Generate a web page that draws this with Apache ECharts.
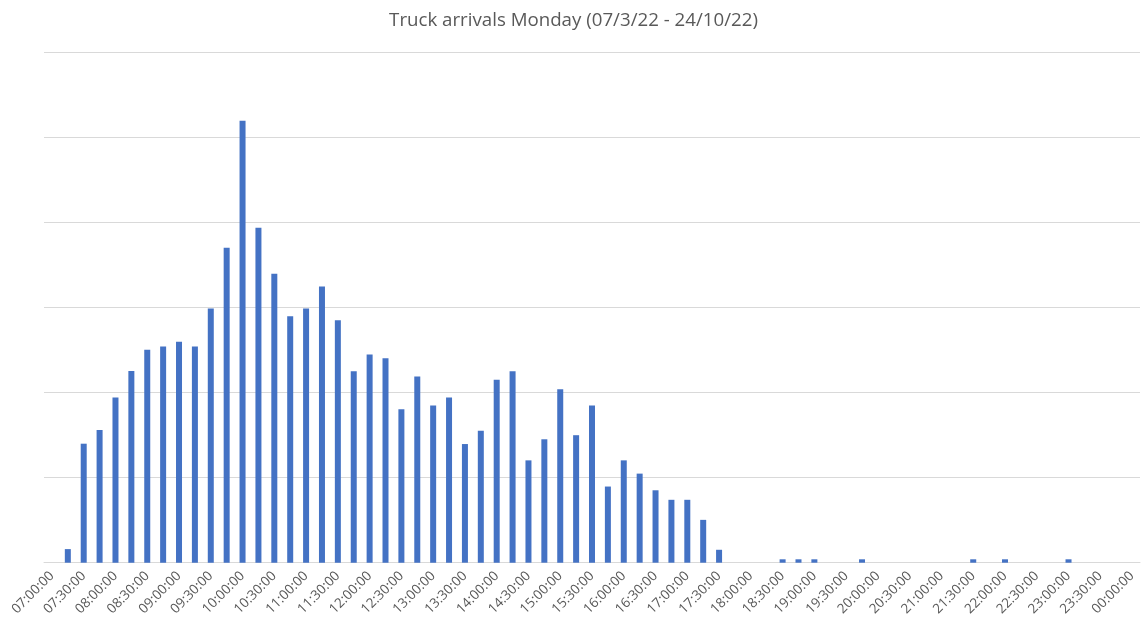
<!DOCTYPE html>
<html>
<head>
<meta charset="utf-8">
<script src="https://cdn.jsdelivr.net/npm/echarts@6/dist/echarts.min.js"></script>
<style>
html,body{margin:0;padding:0;background:#fff;}
#chart{width:1147px;height:629px;}
</style>
</head>
<body>
<div id="chart"></div>
<script>
var titleText = 'Truck arrivals Monday (07/3/22 - 24/10/22)';
var categories = [
 '07:00:00','07:15:00','07:30:00','07:45:00','08:00:00','08:15:00','08:30:00','08:45:00',
 '09:00:00','09:15:00','09:30:00','09:45:00','10:00:00','10:15:00','10:30:00','10:45:00',
 '11:00:00','11:15:00','11:30:00','11:45:00','12:00:00','12:15:00','12:30:00','12:45:00',
 '13:00:00','13:15:00','13:30:00','13:45:00','14:00:00','14:15:00','14:30:00','14:45:00',
 '15:00:00','15:15:00','15:30:00','15:45:00','16:00:00','16:15:00','16:30:00','16:45:00',
 '17:00:00','17:15:00','17:30:00','17:45:00','18:00:00','18:15:00','18:30:00','18:45:00',
 '19:00:00','19:15:00','19:30:00','19:45:00','20:00:00','20:15:00','20:30:00','20:45:00',
 '21:00:00','21:15:00','21:30:00','21:45:00','22:00:00','22:15:00','22:30:00','22:45:00',
 '23:00:00','23:15:00','23:30:00','23:45:00','00:00:00'
];
var arrivals = [
 0, 4, 35, 39, 48.6, 56.4, 62.6, 63.6,
 65, 63.6, 74.8, 92.6, 130, 98.5, 85, 72.5,
 74.8, 81.2, 71.3, 56.3, 61.2, 60.1, 45.1, 54.8,
 46.2, 48.6, 34.9, 38.8, 53.8, 56.3, 30.1, 36.3,
 51, 37.5, 46.2, 22.4, 30.1, 26.2, 21.3, 18.5,
 18.5, 12.6, 3.8, 0, 0, 0, 1, 1,
 1, 0, 0, 1, 0, 0, 0, 0,
 0, 0, 1, 0, 1, 0, 0, 0,
 1, 0, 0, 0, 0
];

var chart = echarts.init(document.getElementById('chart'), null, {renderer: 'canvas'});
chart.setOption({
  animation: false,
  backgroundColor: '#ffffff',
  title: {
    text: titleText,
    left: 'center',
    top: 6,
    textStyle: {fontFamily: 'Open Sans', fontSize: 18.7, fontWeight: 'normal', color: '#595959'}
  },
  grid: {left: 44, right: 7, top: 52.7, bottom: 66.3, containLabel: false},
  xAxis: {
    type: 'category',
    data: categories,
    axisLine: {show: true, lineStyle: {color: '#d9d9d9', width: 1}},
    axisTick: {show: false},
    axisLabel: {
      interval: 1,
      rotate: 45,
      margin: 11,
      color: '#595959',
      fontFamily: 'Open Sans',
      fontSize: 13.5
    }
  },
  yAxis: {
    type: 'value',
    min: 0,
    max: 150,
    interval: 25,
    axisLabel: {show: false},
    axisLine: {show: false},
    axisTick: {show: false},
    splitLine: {lineStyle: {color: '#d9d9d9', width: 1}}
  },
  series: [{
    type: 'bar',
    data: arrivals,
    barWidth: 6,
    itemStyle: {color: '#4472c4'}
  }]
});
</script>
</body>
</html>
